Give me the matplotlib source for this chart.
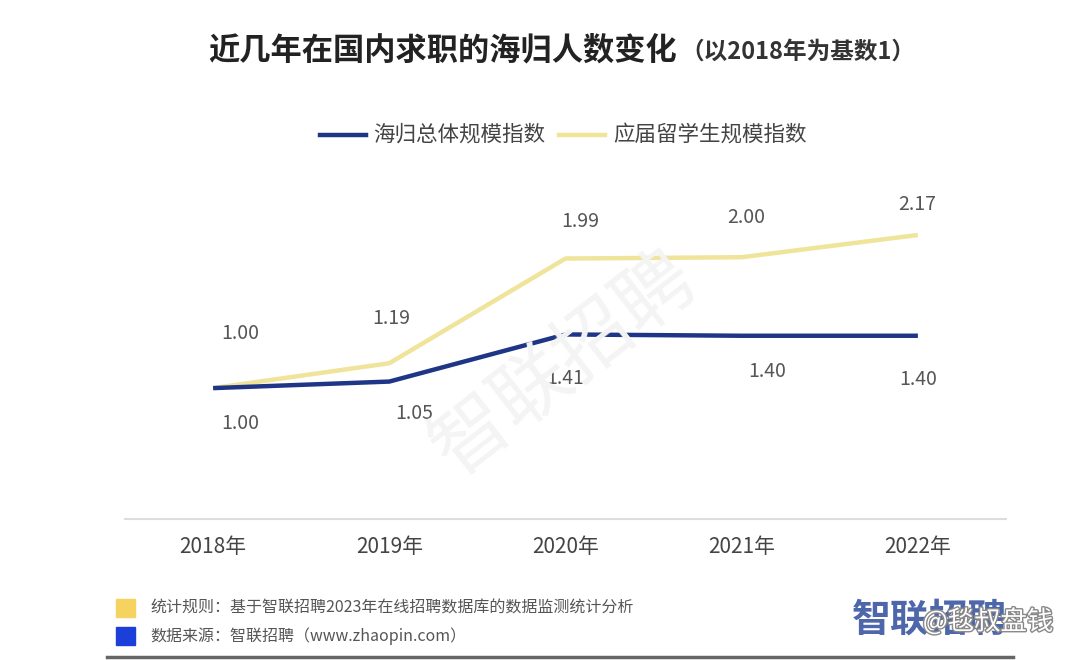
import matplotlib.pyplot as plt
import matplotlib.patheffects as pe
from matplotlib.patches import Rectangle
from matplotlib.lines import Line2D

plt.rcParams['font.family'] = ['Noto Sans CJK SC', 'DejaVu Sans']

years = ["2018年", "2019年", "2020年", "2021年", "2022年"]
total_index = [1.00, 1.05, 1.41, 1.40, 1.40]
fresh_index = [1.00, 1.19, 1.99, 2.00, 2.17]
series_names = ["海归总体规模指数", "应届留学生规模指数"]

# label offsets in pixels (dx, dy), y up
fresh_offsets = [(27, 55), (2, 45), (15, 37), (5, 40), (-1, 30)]
total_offsets = [(27, -35), (25, -32), (0, -44), (25, -36), (0, -44)]

BLUE = "#1f3585"
YELLOW = "#efe49a"
W, H = 1079, 660

fig = plt.figure(figsize=(W / 100, H / 100), dpi=100)
fig.patch.set_facecolor("white")

ax = fig.add_axes([125 / W, 1 - 519 / H, (1006 - 125) / W, (519 - 180) / H])
x = range(len(years))
ax.plot(x, fresh_index, color=YELLOW, lw=3.2, solid_capstyle="butt", zorder=3)
ax.plot(x, total_index, color=BLUE, lw=3.2, solid_capstyle="butt", zorder=4)

for i, v in enumerate(fresh_index):
    ax.annotate(f"{v:.2f}", (i, v), xytext=fresh_offsets[i], textcoords="offset pixels",
                ha="center", va="center", fontsize=14, color="#555555")
for i, v in enumerate(total_index):
    ax.annotate(f"{v:.2f}", (i, v), xytext=total_offsets[i], textcoords="offset pixels",
                ha="center", va="center", fontsize=14, color="#555555")

ax.set_xlim(-0.5, 4.5)
ax.set_ylim(0, 2.59)
ax.set_xticks(list(x))
ax.set_xticklabels(years, fontsize=15, color="#444444")
ax.set_yticks([])
ax.tick_params(axis="x", length=0, pad=12)
for s in ["top", "left", "right"]:
    ax.spines[s].set_visible(False)
ax.spines["bottom"].set_color("#dddddd")
ax.spines["bottom"].set_linewidth(1.5)
ax.patch.set_alpha(0)

# faint watermark in the plot
fig.text(565 / W, 1 - 365 / H, "智联招聘", fontsize=56, color="#f4f4f4",
         rotation=38, ha="center", va="center", zorder=0)

# title
fig.text(208 / W, 1 - 50 / H, "近几年在国内求职的海归人数变化", fontsize=22.5,
         fontweight="bold", color="#222222", ha="left", va="center")
fig.text(680 / W, 1 - 52 / H, "（以2018年为基数1）", fontsize=17,
         fontweight="bold", color="#333333", ha="left", va="center")

# legend
fig.add_artist(Line2D([320 / W, 366 / W], [1 - 135 / H] * 2, color=BLUE, lw=3.2))
fig.text(373 / W, 1 - 135 / H, series_names[0], fontsize=15.5, color="#444444",
         ha="left", va="center")
fig.add_artist(Line2D([559 / W, 605 / W], [1 - 135 / H] * 2, color=YELLOW, lw=3.2))
fig.text(613 / W, 1 - 135 / H, series_names[1], fontsize=15.5, color="#444444",
         ha="left", va="center")

# footer
fig.add_artist(Rectangle((116 / W, 1 - 617 / H), 19 / W, 18 / H, color="#f5d35e",
                         transform=fig.transFigure))
fig.add_artist(Rectangle((116 / W, 1 - 645 / H), 19 / W, 18 / H, color="#1b3fd8",
                         transform=fig.transFigure))
fig.text(150 / W, 1 - 608 / H, "统计规则：基于智联招聘2023年在线招聘数据库的数据监测统计分析",
         fontsize=11.5, color="#555555", ha="left", va="center")
fig.text(150 / W, 1 - 636 / H, "数据来源：智联招聘（www.zhaopin.com）",
         fontsize=11.5, color="#555555", ha="left", va="center")
fig.add_artist(Line2D([107 / W, 1013 / W], [1 - 657 / H] * 2, color="#666666", lw=2.5))

# logo with overlaid site watermark, as in the reference
fig.text(930 / W, 1 - 620 / H, "智联招聘", fontsize=28, fontweight="bold",
         color="#2f4c9c", ha="center", va="center", alpha=0.85)
fig.text(988 / W, 1 - 622 / H, "@毯叔盘钱", fontsize=19, color="white",
         ha="center", va="center",
         path_effects=[pe.withStroke(linewidth=2, foreground="#888888")])

fig.savefig("out.png", dpi=100, facecolor="white")
